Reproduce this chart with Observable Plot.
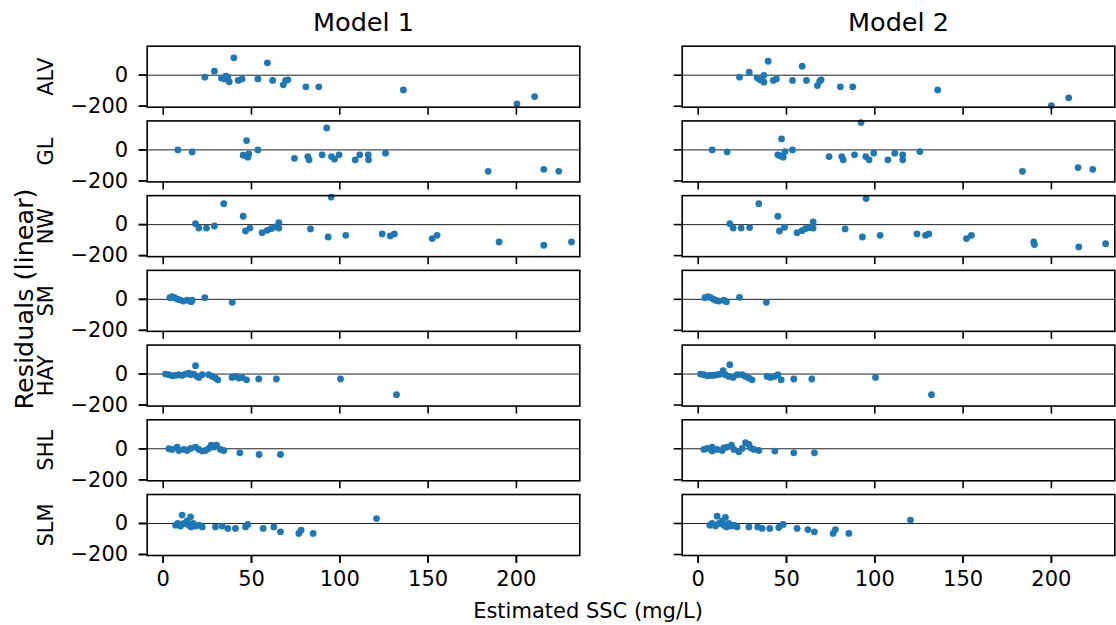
<!DOCTYPE html>
<html><head><meta charset="utf-8">
<script src="https://cdn.jsdelivr.net/npm/d3@7"></script>
<script src="https://cdn.jsdelivr.net/npm/@observablehq/plot@0.6"></script>
<style>html,body{margin:0;padding:0;background:#fff;overflow:hidden}</style>
</head><body><div id="chart"></div>
<script>
const sites = ["ALV","GL","NW","SM","HAY","SHL","SLM"];
const models = ["Model 1","Model 2"];
const xTicks = [0,50,100,150,200];
const yTicks = [-200,0];

// [estimated SSC, residual]
const ALV_m1 = [[23.6,-13],[29,26],[40,112],[33,-19],[34.7,-24],[35.5,-6],[36.6,-13],[37.4,-43],[42.5,-34],[44.7,-24],[59,80],[53.6,-24],[62,-34],[68,-62],[69.3,-34],[70.6,-30],[80.8,-75],[88.1,-75],[136,-95],[200.3,-185],[210.3,-138]];
const ALV_m2 = [[23.4,-13],[28.9,19],[39.6,90],[33.4,-17],[35,-30],[37.2,-2],[37.2,-45],[42.5,-34],[44.3,-24],[58.9,58],[53.4,-34],[61.3,-34],[67.5,-67],[68.8,-39],[69.6,-30],[80.5,-75],[87.5,-75],[135.6,-95],[200,-196],[209.8,-146]];
const GL_m1 = [[8.3,0],[16.4,-13],[47.2,60],[45.3,-34],[47.2,-39],[48.5,-26],[47.9,-47],[53.6,0],[74.3,-54],[81.9,-43],[82.6,-64],[90,-32],[92.6,142],[95.3,-43],[97,-60],[99.6,-32],[108.7,-64],[111.3,-32],[116.1,-32],[116.3,-64],[125.9,-21],[184,-138],[215.5,-125],[224,-138]];
const GL_m2 = [[7.9,0],[16.4,-13],[47.2,71],[45.1,-32],[46.6,-39],[48.1,-47],[49.2,-11],[53.4,0],[74.1,-43],[81.3,-43],[82.1,-64],[88.5,-32],[92.2,176],[94.9,-43],[96.8,-64],[99.4,-21],[107.4,-64],[111.3,-21],[115.8,-32],[115.8,-64],[125.5,-11],[183.6,-138],[215.1,-114],[223.4,-125]];
const NW_m1 = [[18.3,6],[20.2,-22],[24.5,-22],[29,-9],[34.3,135],[45.3,54],[46.6,-41],[49.1,-22],[56,-52],[58.9,-37],[61.1,-26],[63.6,-15],[65.5,13],[65.5,-22],[83.4,-28],[93.4,-80],[95.1,178],[103.4,-69],[124,-60],[128.6,-73],[130.9,-60],[152.3,-90],[155.1,-69],[190.2,-112],[215.5,-133],[231.2,-112]];
const NW_m2 = [[17.9,6],[19.8,-22],[24.3,-22],[29.1,-19],[34.3,135],[45.1,54],[46,-41],[48.9,-17],[56,-52],[58.8,-39],[60.7,-26],[63,-19],[65.1,17],[65.1,-22],[83.2,-28],[93,-80],[95.1,168],[103,-69],[123.9,-60],[128.7,-69],[130.6,-60],[151.9,-90],[154.7,-69],[190,-112],[190.4,-129],[215.5,-144],[230.7,-123]];
const SM_m1 = [[3.8,11],[5.1,17],[6.4,11],[7.9,2],[9.4,-4],[11.3,-11],[13.6,-6],[15.8,-15],[16.4,-6],[23.6,11],[39.1,-19]];
const SM_m2 = [[3.8,11],[5.5,17],[7,11],[8.5,2],[9.8,-6],[11.7,-11],[14.5,-6],[16,-15],[23.4,13],[38.6,-19]];
const HAY_m1 = [[1.3,0],[3.2,-4],[5.1,-11],[7,-9],[8.9,-4],[10.7,-9],[12.6,0],[14.5,6],[15.5,-4],[17.3,0],[18.3,54],[19.2,-15],[20.2,-22],[22.1,-4],[25.8,-4],[27.7,-15],[29.6,-26],[30.9,-37],[39,-22],[40.9,-15],[42.8,-26],[44.7,-22],[47.2,-37],[54.1,-32],[64.1,-32],[100.4,-32],[132.1,-133]];
const HAY_m2 = [[1.3,0],[3.2,-4],[5.1,-11],[7,-9],[8.8,-9],[10.7,-4],[12.6,0],[14.1,22],[15.4,-4],[17.9,60],[17.3,-15],[19.8,-22],[22.1,-4],[24.9,-4],[26.8,-15],[28.7,-26],[30.5,-37],[39,-15],[40.9,-22],[43.2,-15],[45.1,-4],[47,-37],[54.1,-32],[64.3,-32],[100.4,-22],[132.1,-133]];
const SHL_m1 = [[3.2,0],[5.1,-4],[7.9,11],[8.9,-11],[11.7,-4],[13.6,-11],[15.5,2],[18.3,11],[20.2,-4],[22.1,-15],[24,-11],[25.8,2],[27.2,24],[28.7,11],[30.2,24],[32.4,-4],[34.3,-11],[43.4,-26],[54.3,-37],[66.4,-37]];
const SHL_m2 = [[3.2,-4],[5.1,2],[7.9,11],[7.9,-15],[10.7,-4],[13.6,-11],[14.5,6],[16.4,11],[18.9,24],[20.2,-4],[23,-19],[24.9,2],[26.8,39],[28.7,28],[29.6,6],[31.5,-4],[34.3,-11],[43.4,-15],[54.1,-26],[65.8,-26]];
const SLM_m1 = [[7,-11],[8.3,0],[9.8,-17],[10.7,54],[11.7,0],[13.6,17],[14.5,-11],[15.5,43],[15.8,-22],[17,0],[18.3,-17],[20.2,-11],[22.1,-22],[29.6,-22],[33.4,-17],[36.6,-32],[40.9,-32],[46.6,-22],[47.9,-6],[56.6,-32],[62.6,-22],[66.4,-54],[76.8,-64],[78.1,-43],[84.9,-64],[120.8,32]];
const SLM_m2 = [[6.6,-11],[7.9,0],[9.8,-17],[10.7,47],[11.7,0],[13.6,17],[14.5,-11],[15.4,39],[16,-22],[17.3,0],[18.6,-17],[20.2,-11],[22,-22],[28.7,-22],[33.7,-22],[36.2,-32],[40.5,-32],[45.6,-26],[48.1,-6],[56,-32],[62.1,-39],[65.8,-54],[76.4,-64],[77.7,-39],[85.3,-64],[120.2,22]];

const panels = {
  ALV: [ALV_m1, ALV_m2], GL: [GL_m1, GL_m2], NW: [NW_m1, NW_m2], SM: [SM_m1, SM_m2],
  HAY: [HAY_m1, HAY_m2], SHL: [SHL_m1, SHL_m2], SLM: [SLM_m1, SLM_m2]
};
const rows = [];
for (const s of sites) panels[s].forEach((pts, i) => pts.forEach(([x, y]) => rows.push({site: s, model: models[i], x, y})));

const minus = d => d < 0 ? "\u2212" + Math.abs(d) : String(d);
const FONT = "DejaVu Sans";

const svg = Plot.plot({
  width: 1116,
  height: 625,
  marginLeft: 146.7,
  marginRight: 1.7,
  marginTop: 45.7,
  marginBottom: 70,
  style: {fontFamily: FONT, fontSize: "21px", color: "black", background: "white"},
  x: {domain: [-9.06, 235.9], label: null},
  y: {domain: [-206.5, 187], label: null},
  fx: {domain: models, paddingInner: 0.1914, paddingOuter: 0, round: false, label: null},
  fy: {domain: sites, paddingInner: 0.1836, paddingOuter: 0, round: false, label: null},
  marks: [
    Plot.ruleY([0], {stroke: "#222", strokeWidth: 1}),
    Plot.dot(rows, {x: "x", y: "y", fx: "model", fy: "site", r: 3.4, fill: "#1f77b4", stroke: null}),
    Plot.frame({stroke: "black", strokeWidth: 1.6}),
    Plot.axisY({ticks: yTicks, tickSize: 8, tickFormat: () => "", facetAnchor: null, strokeWidth: 1.6, label: null}),
    Plot.axisY({ticks: yTicks, tickSize: 8, tickPadding: 11, tickFormat: minus, strokeWidth: 1.6, fontSize: 21, label: null}),
    Plot.axisX({ticks: xTicks, tickSize: 8, tickFormat: () => "", facetAnchor: null, strokeWidth: 1.6, label: null}),
    Plot.axisX({ticks: xTicks, tickSize: 8, tickPadding: 8, strokeWidth: 1.6, fontSize: 21, label: null}),
    Plot.axisFx({anchor: "top", tickSize: 0, tickPadding: 15.4, fontSize: 25.5, label: null}),
    Plot.axisFy({anchor: "left", tickRotate: -90, tickSize: 0, tickPadding: 94, fontSize: 21, label: null})
  ]
});

const s = d3.select(svg);
s.append("text")
  .attr("transform", "translate(33,299) rotate(-90)")
  .attr("text-anchor", "middle")
  .style("font-family", FONT).style("font-size", "25.5px").attr("fill", "black")
  .text("Residuals (linear)");
s.append("text")
  .attr("x", 588).attr("y", 618)
  .attr("text-anchor", "middle")
  .style("font-family", FONT).style("font-size", "21px").attr("fill", "black")
  .text("Estimated SSC (mg/L)");

document.getElementById("chart").appendChild(svg);
</script>
</body></html>
